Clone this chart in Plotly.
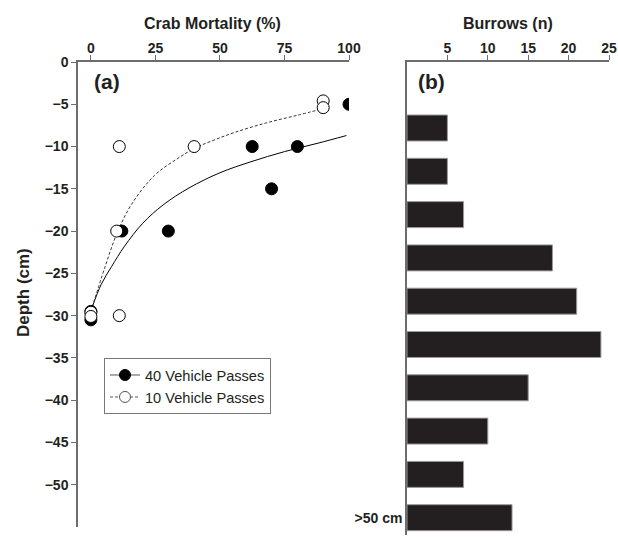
import plotly.graph_objects as go

# ---------------- data ----------------
# Panel (a): crab mortality vs depth
mortality_40 = [100, 62.5, 80, 70, 30, 12, 0, 0]
depth_40 = [-5, -10, -10, -15, -20, -20, -29.5, -30.5]
mortality_10 = [90, 90, 11, 40, 10, 11, 0, 0]
depth_10 = [-4.6, -5.4, -10, -10, -20, -30, -29.6, -30.1]

# fitted curves
fit40_x = [0.5, 4, 8, 13, 20, 28, 38, 50, 62, 75, 88, 99]
fit40_y = [-29, -26.3, -24.2, -21.8, -19.1, -16.9, -14.9, -13.1, -11.8, -10.6, -9.6, -8.7]
fit10_x = [0.5, 5.3, 9.8, 15.6, 24.7, 33.7, 40.2, 48, 56, 68, 80, 89]
fit10_y = [-29, -24.4, -20.5, -16.9, -13.4, -11.4, -10.2, -9.2, -8.3, -7.2, -6.3, -5.6]

# Panel (b): burrows per depth bin
burrow_bins = [0, 1, 2, 3, 4, 5, 6, 7, 8, 9]
burrows = [5, 5, 7, 18, 21, 24, 15, 10, 7, 13]
burrow_ticklabels = [">50 cm"]

x_ticks_a = [0, 25, 50, 75, 100]
y_ticks_a = [0, -5, -10, -15, -20, -25, -30, -35, -40, -45, -50]
x_ticks_b = [5, 10, 15, 20, 25]

W, H = 618, 537
FONT = "Liberation Sans, Arial, sans-serif"
AX = "#6d6d6d"

fig = go.Figure()

# fitted curves
fig.add_trace(go.Scatter(x=fit40_x, y=fit40_y, mode="lines", line=dict(color="black", width=1, shape="spline"),
                         showlegend=False, xaxis="x", yaxis="y"))
fig.add_trace(go.Scatter(x=fit10_x, y=fit10_y, mode="lines",
                         line=dict(color="#333", width=1, dash="3px,2px", shape="spline"),
                         showlegend=False, xaxis="x", yaxis="y"))
# points
fig.add_trace(go.Scatter(x=mortality_40, y=depth_40, mode="markers",
                         marker=dict(symbol="circle", size=12, color="black", line=dict(color="black", width=1)),
                         showlegend=False, xaxis="x", yaxis="y"))
fig.add_trace(go.Scatter(x=mortality_10, y=depth_10, mode="markers",
                         marker=dict(symbol="circle", size=12, color="white", line=dict(color="black", width=1)),
                         showlegend=False, xaxis="x", yaxis="y"))
# legend entries
fig.add_trace(go.Scatter(x=[None], y=[None], mode="lines+markers", name="40 Vehicle Passes",
                         line=dict(color="#555", width=1),
                         marker=dict(symbol="circle", size=11, color="black", line=dict(color="black", width=1)),
                         xaxis="x", yaxis="y"))
fig.add_trace(go.Scatter(x=[None], y=[None], mode="lines+markers", name="10 Vehicle Passes",
                         line=dict(color="#555", width=1, dash="3px,2px"),
                         marker=dict(symbol="circle", size=11, color="white", line=dict(color="#555", width=1)),
                         xaxis="x", yaxis="y"))

# bars
fig.add_trace(go.Bar(x=burrows, y=burrow_bins, orientation="h", width=0.6,
                     marker=dict(color="#231f20", line=dict(color="#9a9a9a", width=1)),
                     showlegend=False, xaxis="x2", yaxis="y2"))

tickfont = dict(family=FONT, size=14, color="#231f20", weight="bold")

fig.update_layout(
    width=W, height=H,
    margin=dict(l=0, r=0, t=0, b=0, autoexpand=False),
    paper_bgcolor="white", plot_bgcolor="white",
    showlegend=True,
    legend=dict(x=104 / W, y=1 - 358 / H, xanchor="left", yanchor="top",
                bgcolor="white", bordercolor="#777", borderwidth=1,
                font=dict(family=FONT, size=14.6, color="#231f20"),
                itemwidth=30, tracegroupgap=0),
    xaxis=dict(domain=[78 / W, 349 / W], range=[-5, 100], side="top", anchor="y", automargin=False,
               tickvals=x_ticks_a, ticks="outside", ticklen=5, tickcolor=AX, tickwidth=1,
               showline=True, linecolor=AX, linewidth=1.5, showgrid=False, zeroline=False,
               tickfont=tickfont, ticklabelstandoff=-3),
    yaxis=dict(domain=[1 - 527 / H, 1 - 62 / H], range=[-55, 0], anchor="x", automargin=False,
               tickvals=y_ticks_a, ticks="outside", ticklen=5, tickcolor=AX, tickwidth=1,
               showline=True, linecolor=AX, linewidth=1.5, showgrid=False, zeroline=False,
               tickfont=tickfont),
    xaxis2=dict(domain=[407 / W, 609 / W], range=[0, 25], side="top", anchor="y2", automargin=False,
                tickvals=x_ticks_b, ticks="outside", ticklen=5, tickcolor=AX, tickwidth=1,
                showline=True, linecolor=AX, linewidth=1.5, showgrid=False, zeroline=False,
                tickfont=tickfont, ticklabelstandoff=-3),
    yaxis2=dict(domain=[1 - 535 / H, 1 - 62 / H], range=[(535 - 128) / 43.3, -66 / 43.3], anchor="x2",
                automargin=False,
                tickvals=[burrow_bins[-1]], ticktext=burrow_ticklabels, ticks="",
                showline=True, linecolor=AX, linewidth=1.5, showgrid=False, zeroline=False,
                tickfont=dict(family=FONT, size=14, color="#231f20", weight="bold")),
    annotations=[
        dict(text="Crab Mortality (%)", x=212 / W, y=1 - 24 / H, xref="paper", yref="paper",
             xanchor="center", yanchor="middle",
             showarrow=False, font=dict(family=FONT, size=16, color="#231f20", weight="bold")),
        dict(text="Burrows (n)", x=508 / W, y=1 - 24 / H, xref="paper", yref="paper",
             xanchor="center", yanchor="middle",
             showarrow=False, font=dict(family=FONT, size=16, color="#231f20", weight="bold")),
        dict(text="Depth (cm)", x=23 / W, y=1 - 293 / H, xref="paper", yref="paper", textangle=-90,
             xanchor="center", yanchor="middle",
             showarrow=False, font=dict(family=FONT, size=17, color="#231f20", weight="bold")),
        dict(text="(a)", x=92 / W, y=1 - 82 / H, xref="paper", yref="paper", xanchor="left", yanchor="middle",
             showarrow=False, font=dict(family=FONT, size=21, color="#231f20", weight="bold")),
        dict(text="(b)", x=416 / W, y=1 - 82 / H, xref="paper", yref="paper", xanchor="left", yanchor="middle",
             showarrow=False, font=dict(family=FONT, size=21, color="#231f20", weight="bold")),
    ],
)

fig.write_html("out.html")
